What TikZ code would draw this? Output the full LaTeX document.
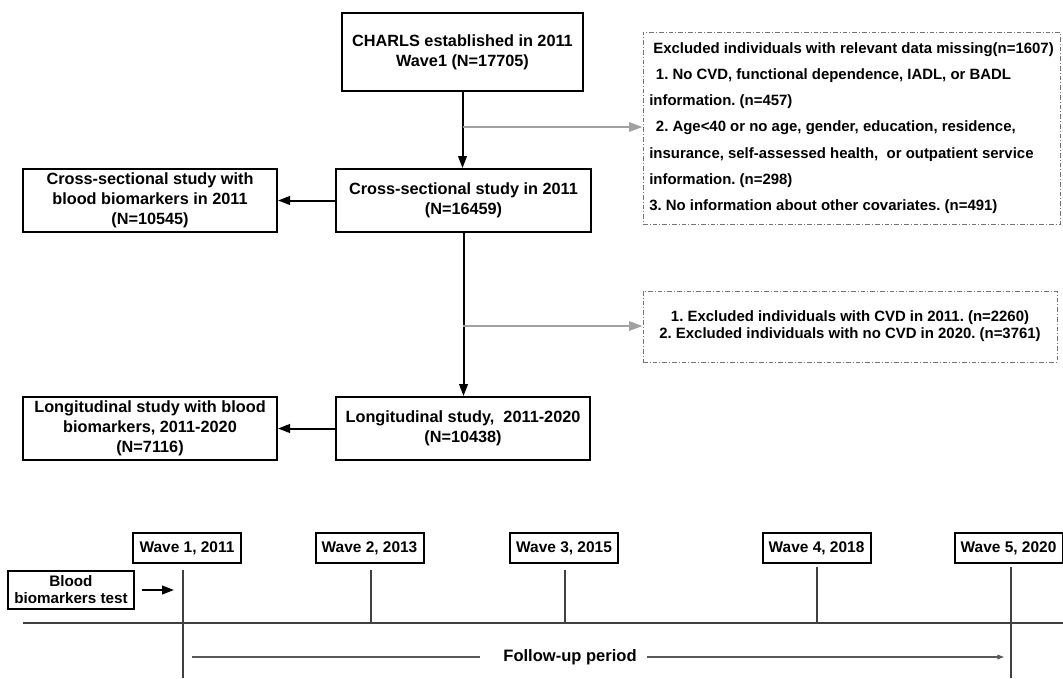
\documentclass[tikz,border=0pt]{standalone}
\usepackage{fontspec}
\setmainfont{Liberation Sans}
\usetikzlibrary{arrows.meta}
\frenchspacing

\begin{document}
\begin{tikzpicture}[x=0.75pt, y=-0.75pt, >={Triangle[length=9pt, width=6.5pt]},
    box/.style={draw, line width=1.5pt, align=center, inner sep=0pt,
        minimum width=190.5pt, minimum height=47.25pt,
        font=\fontsize{12.2}{15}\selectfont\bfseries},
    exclbox/.style={draw=black!55, line width=0.75pt,
        dash pattern=on 3.5pt off 1.5pt on 0.75pt off 1.5pt, inner sep=2pt,
        font=\fontsize{11.2}{12.75}\selectfont\bfseries},
    wave/.style={draw, line width=1.5pt, inner sep=0pt, minimum width=81pt,
        minimum height=22.5pt, font=\fontsize{11.6}{14}\selectfont\bfseries},
    flow/.style={->, line width=1.5pt},
    skip/.style={->, line width=1.5pt, color=black!37, >={Triangle[length=10pt, width=7pt]}},
    axis/.style={line width=0.8pt, color=black!75}]
    \useasboundingbox (0,0) rectangle (1063,678);

    % Main flow
    \node[box, minimum width=180.75pt, minimum height=58.5pt] (charls) at (462.5,52)
        {CHARLS established in 2011\\Wave1 (N=17705)};
    \node[box, minimum width=191.25pt] (cross) at (463.5,200.5)
        {Cross-sectional study in 2011\\(N=16459)};
    \node[box] (crossbio) at (150,200.5)
        {Cross-sectional study with\\blood biomarkers in 2011\\(N=10545)};
    \node[box] (longi) at (463,428.5)
        {Longitudinal study,\ \ 2011-2020\\(N=10438)};
    \node[box] (longibio) at (150,428.5)
        {Longitudinal study with blood\\biomarkers, 2011-2020\\(N=7116)};

    % Exclusions
    \node[exclbox, align=left, minimum width=312.75pt, minimum height=144pt,
        font=\fontsize{11.2}{19.7}\selectfont\bfseries] (excl1) at (851.5,128)
        {\hspace{3pt}Excluded individuals with relevant data missing(n=1607)\\
         \hspace{5pt}1. No CVD, functional dependence, IADL, or BADL\\
         information. (n=457)\\
         \hspace{5pt}2. Age<40 or no age, gender, education, residence,\\
         insurance, self-assessed health,\ \ or outpatient service\\
         information. (n=298)\\
         3. No information about other covariates. (n=491)};
    \node[exclbox, align=center, minimum width=310.5pt, minimum height=53.25pt] (excl2) at (850,326.5)
        {1. Excluded individuals with CVD in 2011. (n=2260)\\
         2. Excluded individuals with no CVD in 2020. (n=3761)};

    \coordinate (j1) at (463,127);
    \coordinate (j2) at (463,326);

    \draw[flow] (charls.south) -- (charls.south |- cross.north);
    \draw[skip] (j1) -- (j1 -| excl1.west);
    \draw[flow] (cross.west) -- (crossbio.east);
    \draw[flow] (cross.south) -- (cross.south |- longi.north);
    \draw[skip] (j2) -- (j2 -| excl2.west);
    \draw[flow] (longi.west) -- (longibio.east);

    % Timeline
    \node[wave] (w1) at (187,548) {Wave 1, 2011};
    \node[wave] (w2) at (369.5,548) {Wave 2, 2013};
    \node[wave] (w3) at (564,548) {Wave 3, 2015};
    \node[wave] (w4) at (816.5,548) {Wave 4, 2018};
    \node[wave] (w5) at (1008.5,548) {Wave 5, 2020};

    \foreach \x/\ya/\yb in {183/570/678, 371/570/623, 565/570/623, 817/567/623, 1011/567/678}
        \draw[axis] (\x,\ya) -- (\x,\yb);
    \draw[axis] (23,623) -- (1063,623);

    \node[draw, line width=1.5pt, align=center, inner sep=0pt, minimum width=94.5pt,
        minimum height=28.5pt, font=\fontsize{11.4}{12.75}\selectfont\bfseries] (blood) at (71,590)
        {Blood\\biomarkers test};
    \coordinate (bt) at (174,590);
    \draw[flow] ([xshift=5pt]blood.east) -- (bt);

    % Follow-up
    \node[font=\fontsize{12.4}{14}\selectfont\bfseries] (follow) at (570,657) {Follow-up period};
    \coordinate (fs) at (192,657);
    \coordinate (fa) at (480,657);
    \coordinate (fb) at (647,657);
    \coordinate (fe) at (1004,657);
    \draw[axis, color=black!65] (fs) -- (fa);
    \draw[axis, color=black!65, ->, >={Triangle[length=5pt, width=3.5pt]}] (fb) -- (fe);
\end{tikzpicture}
\end{document}
